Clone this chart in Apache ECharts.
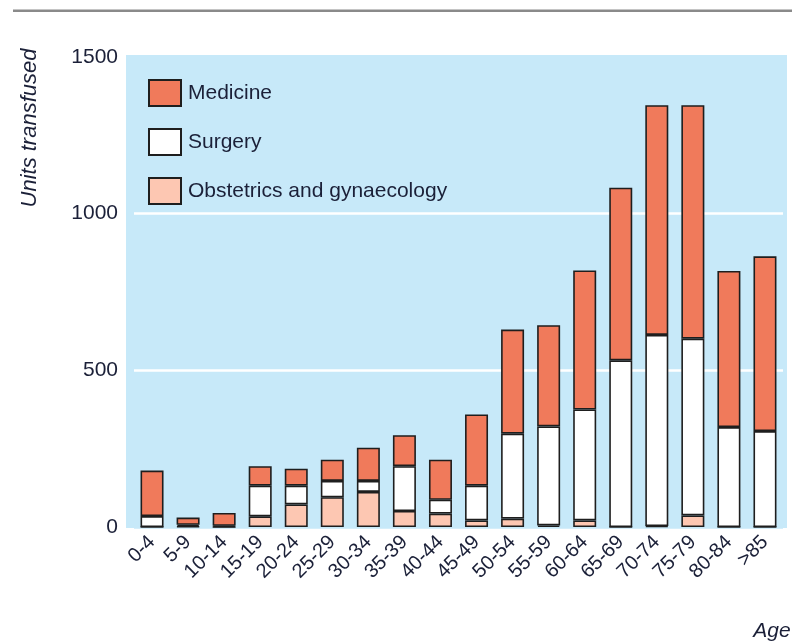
<!DOCTYPE html>
<html>
<head>
<meta charset="utf-8">
<script src="https://cdn.jsdelivr.net/npm/echarts@6/dist/echarts.min.js"></script>
<style>
  html, body { margin: 0; padding: 0; background: #ffffff; }
  #chart { width: 792px; height: 643px; }
</style>
</head>
<body>
<div id="chart"></div>
<script>
// Age bands (years)
const ages = ['0-4', '5-9', '10-14', '15-19', '20-24', '25-29', '30-34', '35-39', '40-44',
  '45-49', '50-54', '55-59', '60-64', '65-69', '70-74', '75-79', '80-84', '>85'];

// Units transfused per specialty, stacked bottom to top
const obstetrics = [0, 2, 0, 34, 72, 95, 112, 51, 43, 21, 27, 5, 21, 0, 3, 37, 0, 0];
const surgery = [35, 5, 4, 98, 60, 52, 35, 143, 44, 111, 271, 316, 354, 532, 610, 564, 319, 306];
const medicine = [145, 23, 41, 62, 54, 68, 106, 99, 128, 227, 332, 323, 444, 551, 733, 745, 498, 558];

// Value axis ticks
const yTicks = [0, 500, 1000, 1500];

const FONT = '"Liberation Sans", Arial, sans-serif';
const INK = '#1b2038';
const EDGE = '#1e1e1e';
const PANEL = '#c7e9f9';

const chart = echarts.init(document.getElementById('chart'), null, { renderer: 'canvas' });

function barSeries(name, data, color) {
  return {
    name: name,
    type: 'bar',
    stack: 'units',
    data: data,
    barWidth: 23,
    itemStyle: { color: color, borderColor: EDGE, borderWidth: 1.6 },
    emphasis: { disabled: true }
  };
}

chart.setOption({
  animation: false,
  backgroundColor: '#ffffff',
  grid: { left: 134, right: 9, top: 57, bottom: 116, containLabel: false },
  graphic: [
    // rule across the top of the figure
    { type: 'rect', z: 0, shape: { x: 13, y: 9.5, width: 779, height: 2.5 },
      style: { fill: '#8a8a8a' } },
    // plot panel
    { type: 'rect', z: -10, silent: true, shape: { x: 126, y: 55, width: 661, height: 473 },
      style: { fill: PANEL } },
    { type: 'text', z: 5, x: 30, y: 128, rotation: Math.PI / 2,
      style: { text: 'Units transfused', font: 'italic 22px ' + FONT, fill: INK,
        textAlign: 'center', textVerticalAlign: 'middle' } },
    { type: 'text', z: 5, x: 772, y: 631,
      style: { text: 'Age', font: 'italic 21px ' + FONT, fill: INK,
        textAlign: 'center', textVerticalAlign: 'middle' } }
  ],
  legend: {
    orient: 'vertical',
    left: 143,
    top: 74,
    itemWidth: 32,
    itemHeight: 26,
    itemGap: 21,
    icon: 'rect',
    data: ['Medicine', 'Surgery', 'Obstetrics and gynaecology'],
    textStyle: { fontFamily: FONT, fontSize: 21, color: INK, padding: [0, 0, 0, 2] },
    selectedMode: false
  },
  xAxis: {
    type: 'category',
    data: ages,
    axisLine: { show: false },
    axisTick: { show: false },
    axisLabel: {
      interval: 0,
      rotate: 45,
      margin: 12,
      fontFamily: FONT,
      fontSize: 20,
      color: INK
    }
  },
  yAxis: {
    type: 'value',
    min: yTicks[0],
    max: yTicks[yTicks.length - 1],
    interval: yTicks[1] - yTicks[0],
    axisLine: { show: false },
    axisTick: { show: false },
    axisLabel: { margin: 16, fontFamily: FONT, fontSize: 21, color: INK,
      formatter: function (v) { return String(v); } },
    // white rules at 500 and 1000 only; the edge lines blend into the panel
    splitLine: { show: true, lineStyle: { color: [PANEL, '#ffffff', '#ffffff', PANEL], width: 2.5 } }
  },
  series: [
    barSeries('Obstetrics and gynaecology', obstetrics, '#fdc7b2'),
    barSeries('Surgery', surgery, '#ffffff'),
    barSeries('Medicine', medicine, '#f07a5b')
  ]
});
</script>
</body>
</html>
